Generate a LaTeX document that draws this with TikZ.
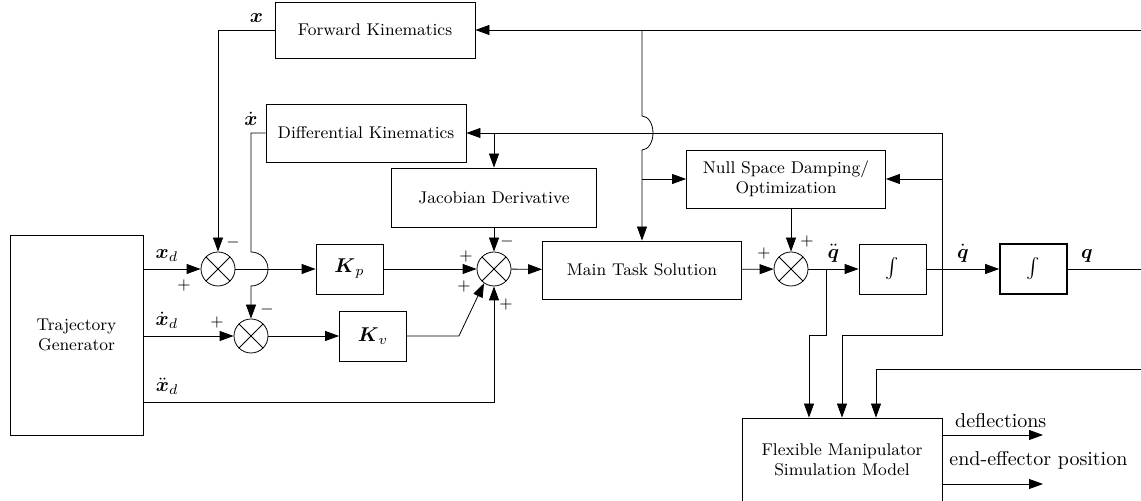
\documentclass[tikz,border=0pt]{standalone}
\usepackage{amsmath,amssymb}
\usepackage{tikz}
\usetikzlibrary{arrows.meta,calc}

\begin{document}
\begin{tikzpicture}[x=0.5pt,y=-0.5pt,
  >={Triangle[length=7pt,width=5pt]},
  blk/.style={draw, align=center, font=\fontsize{8.5}{10}\selectfont},
  gain/.style={draw, minimum width=33.5pt, minimum height=25pt},
  sumj/.style={draw, circle, minimum size=17pt, inner sep=0pt,
    path picture={\draw (path picture bounding box.north west)--(path picture bounding box.south east)
      (path picture bounding box.south west)--(path picture bounding box.north east);}},
  sgn/.style={font=\footnotesize, inner sep=0pt}]

\useasboundingbox (0,0) rectangle (1141,501);

% Blocks
\node[blk, minimum width=66.5pt, minimum height=100pt] (tg) at (76.5,335) {Trajectory\\Generator};
\node[blk, minimum width=100pt, minimum height=28pt] (fk) at (375,30) {Forward Kinematics};
\node[blk, minimum width=100pt, minimum height=29pt] (dk) at (366,133) {Differential Kinematics};
\node[blk, minimum width=102.5pt, minimum height=29.5pt] (jd) at (494,197.5) {Jacobian Derivative};
\node[blk, minimum width=99.5pt, minimum height=29pt] (mts) at (642,270) {Main Task Solution};
\node[blk, minimum width=99.5pt, minimum height=29pt] (ns) at (786,179) {Null Space Damping/\\Optimization};
\node[blk, minimum width=100pt, minimum height=42pt] (fm) at (842,460) {Flexible Manipulator\\Simulation Model};

\node[gain] (kp) at (349.5,269) {$\boldsymbol{K}_p$};
\node[gain] (kv) at (373,336) {$\boldsymbol{K}_v$};
\node[gain] (int1) at (892.5,269) {$\int$};
\node[gain, thick] (int2) at (1033.5,269) {$\int$};

% Summing junctions
\node[sumj] (s1) at (218,269) {};
\node[sumj] (s2) at (251,336) {};
\node[sumj] (s3) at (494,269) {};
\node[sumj] (s4) at (791,269) {};

% Signs
\node[sgn] (s1p) at ([shift={(-34,17)}]s1) {$+$};
\node[sgn] (s1m) at ([shift={(15,-26)}]s1) {$-$};
\node[sgn] (s2p) at ([shift={(-34,-13)}]s2) {$+$};
\node[sgn] (s2m) at ([shift={(16,-26)}]s2) {$-$};
\node[sgn] (s3pa) at ([shift={(-28,-12)}]s3) {$+$};
\node[sgn] (s3pb) at ([shift={(-30,18)}]s3) {$+$};
\node[sgn] (s3pc) at ([shift={(12,36)}]s3) {$+$};
\node[sgn] (s3m) at ([shift={(13,-27)}]s3) {$-$};
\node[sgn] (s4pa) at ([shift={(-27,-15)}]s4) {$+$};
\node[sgn] (s4pb) at ([shift={(16,-27)}]s4) {$+$};

% Free ends and taps
\coordinate (qddtap) at (826,269);
\coordinate (qdtap) at (942,269);
\coordinate (qout) at (1141,269);
\coordinate (qtop) at (1141,30);
\coordinate (qback) at (1141,369);
\coordinate (defl) at (1043,435);
\coordinate (eepos) at (1043,484);

% Forward path
\draw[->] (tg.east |- s1) -- node[above, pos=0.41] {$\boldsymbol{x}_d$} (s1);
\draw[->] (tg.east |- s2) -- node[above, pos=0.26] {$\dot{\boldsymbol{x}}_d$} (s2);
\draw[->] ([yshift=-33.5pt]tg.east) -| node[above, pos=0.034] {$\ddot{\boldsymbol{x}}_d$} (s3.south);
\draw[->] (s1) -- (kp);
\draw[->] (s2) -- (kv);
\draw[->] (kp) -- (s3);
\draw[->] (kv.east) -- ++(52,0) -- (s3.235);
\draw[->] (jd) -- (s3);
\draw[->] (s3) -- (mts);
\draw[->] (mts) -- (s4);
\draw[->] (ns.south -| s4) -- (s4);
\draw[->] (s4) -- node[above] {$\ddot{\boldsymbol{q}}$} (int1);
\draw[->] (int1) -- node[above] {$\dot{\boldsymbol{q}}$} (int2);
\draw (int2) -- node[above, pos=0.26] {$\boldsymbol{q}$} (qout);

% Feedback
\draw[->] (qtop) -- (fk);
\draw[->] (fk) -| node[above, pos=0.16] {$\boldsymbol{x}$} (s1);
\draw[->] (qdtap) |- (dk);
\draw[->] (dk.east -| jd) -- (jd);
\draw[->] (qdtap |- ns) -- (ns);
\draw[->] (dk) -| node[above, pos=0.5] {$\dot{\boldsymbol{x}}$} ($(s1 -| s2)+(0,-17)$)
  arc[start angle=90, end angle=-90, radius=8.5pt] -- (s2);
\draw[->] (qtop -| mts) -- ($(dk -| mts)+(0,-17)$)
  arc[start angle=90, end angle=-90, x radius=5.5pt, y radius=8.5pt] -- (mts);
\draw[->] (mts |- ns) -- (ns);

% Simulation model
\draw[->] (qddtap) -- ++(0,66) -| ([xshift=-16.5pt]fm.north);
\draw[->] (qdtap) -- ++(0,66) -| (fm.north);
\draw[->] (qback) -| ([xshift=17pt]fm.north);
\draw[->] (fm.east |- defl) -- node[above, pos=0.58] {deflections} (defl);
\draw[->] (fm.east |- eepos) -- node[above right, yshift=4pt, pos=0] {end-effector position} (eepos);

\end{tikzpicture}
\end{document}
